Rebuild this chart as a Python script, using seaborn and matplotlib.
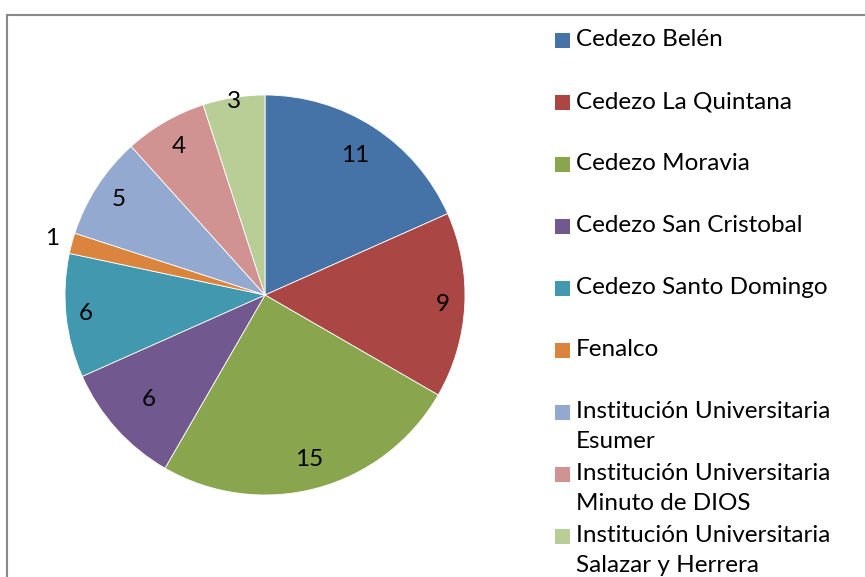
import matplotlib
matplotlib.use("Agg")
import matplotlib.pyplot as plt
import matplotlib.patches as mpatches
import numpy as np
import seaborn as sns

categories = ["Cedezo Belén", "Cedezo La Quintana", "Cedezo Moravia",
              "Cedezo San Cristobal", "Cedezo Santo Domingo", "Fenalco",
              "Institución Universitaria\nEsumer",
              "Institución Universitaria\nMinuto de DIOS",
              "Institución Universitaria\nSalazar y Herrera"]
values = [11, 9, 15, 6, 6, 1, 5, 4, 3]
colors = ["#4572A7", "#AA4643", "#89A54E", "#71588F", "#4198AF",
          "#DB843D", "#93A9CF", "#D19392", "#B9CD96"]
label_dist = [0.83, 0.89, 0.85, 0.78, 0.9, 1.1, 0.875, 0.86, 0.98]

sns.set_theme(style="white")
plt.rcParams['font.family'] = ['Lato', 'DejaVu Sans']

W, H = 865, 577
FS = 17.5
fig = plt.figure(figsize=(W / 100, H / 100), dpi=100)
ax = fig.add_axes([0, 0, 1, 1])

cx, cy, r = 265, H - 295, 200
pal = sns.color_palette(colors)
wedges, _ = ax.pie(values, colors=pal, startangle=90, counterclock=False,
                   center=(cx, cy), radius=r,
                   wedgeprops=dict(edgecolor="white", linewidth=0.6))
for w, v, d in zip(wedges, values, label_dist):
    ang = np.deg2rad((w.theta1 + w.theta2) / 2)
    ax.text(cx + d * r * np.cos(ang), cy + d * r * np.sin(ang), str(v),
            ha="center", va="center", fontsize=FS, color="black")

ax.set_xlim(0, W)
ax.set_ylim(0, H)
ax.axis("off")

# legend laid out in fixed slots, wrapped lines overflow like the original
slot0, slot_h, line_h = 40, 62, 30
for i, (lab, col) in enumerate(zip(categories, pal)):
    yc = H - (slot0 + slot_h * i)
    ax.add_patch(mpatches.Rectangle((555, yc - 7.5), 15, 15,
                                    facecolor=col, edgecolor="none"))
    for j, line in enumerate(lab.split("\n")):
        ax.text(576, yc - line_h * j, line, ha="left", va="center",
                fontsize=FS, color="black")

frame = mpatches.Rectangle((7 / W, -0.2), 2, 1.2 - 15 / H,
                           transform=fig.transFigure, fill=False,
                           edgecolor="#898989", linewidth=1.5)
fig.patches.append(frame)

fig.savefig("out.png", dpi=100, facecolor="white")
